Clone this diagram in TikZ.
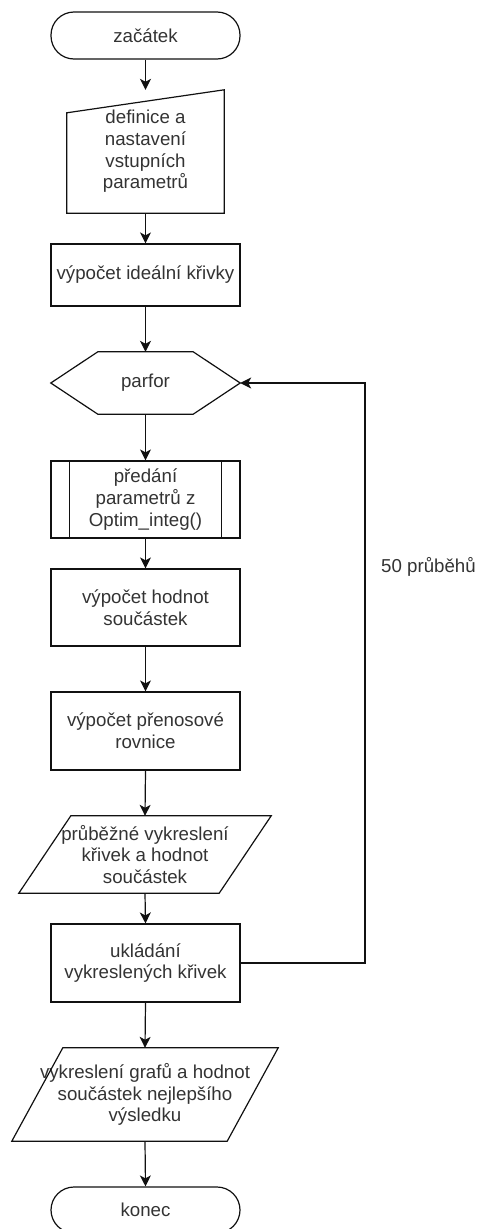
\documentclass[tikz,border=0pt]{standalone}
\usepackage{fontspec}
\setmainfont{Liberation Sans}
\usetikzlibrary{arrows.meta,calc}
\definecolor{line}{HTML}{111111}
\definecolor{txt}{HTML}{333333}
\begin{document}
\begin{tikzpicture}[x=1pt,y=-1pt,
  every node/.style={font=\fontsize{18.7}{21.7}\selectfont, text=txt, align=center, inner sep=0pt},
  box/.style={draw=line, line width=1.2pt, minimum width=189pt},
  frame/.style={draw=line, line width=1.2pt},
  flow/.style={draw=line, line width=1.2pt, -{Stealth[length=11pt,width=11pt,inset=3pt]}}]
\useasboundingbox (0,0) rectangle (479,1229);

% terminal: start
\node[box, rounded corners=23pt, minimum height=47pt] (start) at (145.5,35.5) {začátek};

% manual input
\node[minimum width=157pt, minimum height=123pt] (man) at (145.5,151.5) {definice a\\nastavení\\vstupních\\parametrů};
\draw[frame] (man.south west) -- ($(man.north west)+(0,23)$) -- (man.north east) -- (man.south east) -- cycle;

% process
\node[box, minimum height=62pt] (ideal) at (145.5,275) {výpočet ideální křivky};

% loop preparation (hexagon)
\node[minimum width=189pt, minimum height=62pt] (parfor) at (145.5,383) {parfor};
\draw[frame] (parfor.west) -- ($(parfor.north west)+(47,0)$) -- ($(parfor.north east)+(-47,0)$)
  -- (parfor.east) -- ($(parfor.south east)+(-47,0)$) -- ($(parfor.south west)+(47,0)$) -- cycle;

% predefined process
\node[box, minimum height=77pt] (pred) at (145.5,499.5) {předání\\parametrů z\\Optim\_integ()};
\draw[frame] ($(pred.north west)+(19,0)$) -- ($(pred.south west)+(19,0)$);
\draw[frame] ($(pred.north east)+(-19,0)$) -- ($(pred.south east)+(-19,0)$);

\node[box, minimum height=77pt] (hod) at (145.5,607.5) {výpočet hodnot\\součástek};
\node[box, minimum height=78pt] (pren) at (145.5,731) {výpočet přenosové\\rovnice};

% data (parallelogram)
\node[minimum width=252pt, minimum height=77pt] (prub) at (145,854.5) {průběžné vykreslení\\křivek a hodnot\\součástek};
\draw[frame] (prub.south west) -- ($(prub.north west)+(52,0)$) -- (prub.north east) -- ($(prub.south east)+(-52,0)$) -- cycle;

\node[box, minimum height=78pt] (uklad) at (145.5,963) {ukládání\\vykreslených křivek};

\node[minimum width=266pt, minimum height=93pt] (vykr) at (145,1094.5) {vykreslení grafů a hodnot\\součástek nejlepšího\\výsledku};
\draw[frame] (vykr.south west) -- ($(vykr.north west)+(51,0)$) -- (vykr.north east) -- ($(vykr.south east)+(-51,0)$) -- cycle;

% terminal: end
\node[box, rounded corners=23pt, minimum height=46pt] (end) at (145.5,1210) {konec};

% loop label
\node (runs) at (428.5,567) {50 průběhů};

% connectors
\draw[flow] (start.south) -- (man.north);
\draw[flow] (man.south) -- (ideal.north);
\draw[flow] (ideal.south) -- (parfor.north);
\draw[flow] (parfor.south) -- (pred.north);
\draw[flow] (pred.south) -- (hod.north);
\draw[flow] (hod.south) -- (pren.north);
\draw[flow] (pren.south) -- (prub.north);
\draw[flow] (prub.south) -- (uklad.north);
\draw[flow] (uklad.south) -- (vykr.north);
\draw[flow] (vykr.south) -- (end.north);
\coordinate (loopx) at (365,0);
\draw[flow] (uklad.east) -| (loopx |- parfor.east) -- (parfor.east);
\end{tikzpicture}
\end{document}
